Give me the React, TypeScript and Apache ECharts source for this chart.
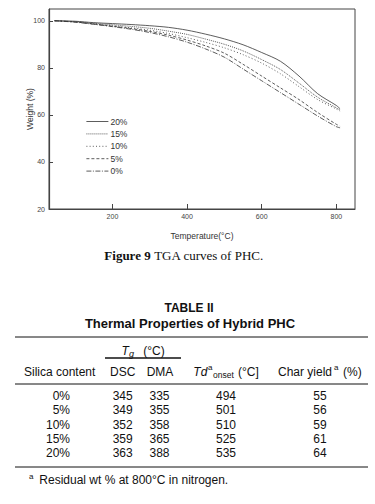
import React, { useEffect, useRef } from "react";
import * as echarts from "echarts";

// ---- Figure data ----
const temps = [45, 100, 150, 200, 250, 300, 350, 400, 450, 500, 550, 600, 650, 700, 750, 800, 810];
const w20 = [100, 99.8, 99.2, 98.8, 98.4, 97.9, 97.2, 96.0, 94.3, 92.3, 89.8, 86.5, 82.8, 76.5, 69.0, 64.0, 62.6];
const w15 = [100, 99.6, 98.9, 98.3, 97.6, 96.8, 95.6, 94.2, 92.2, 90.0, 87.2, 83.5, 79.3, 73.5, 67.5, 63.0, 62.0];
const w10 = [100, 99.5, 98.7, 97.9, 97.0, 96.0, 94.6, 92.8, 90.8, 88.5, 85.6, 82.0, 77.5, 72.0, 66.5, 62.5, 61.6];
const w5 = [100, 99.5, 98.6, 97.7, 96.7, 95.5, 93.9, 91.8, 89.3, 86.2, 81.5, 76.5, 71.5, 66.5, 61.0, 56.0, 55.2];
const w0 = [100, 99.4, 98.5, 97.5, 96.4, 95.0, 93.2, 90.9, 88.0, 84.5, 79.5, 74.5, 69.5, 64.5, 59.5, 55.0, 54.5];
const seriesNames = ["20%", "15%", "10%", "5%", "0%"];
const xTicks = [200, 400, 600, 800];
const yTicks = [20, 40, 60, 80, 100];

// ---- Table data ----
const silica = ["0%", "5%", "10%", "15%", "20%"];
const tgDSC = [345, 349, 352, 359, 363];
const tgDMA = [335, 355, 358, 365, 388];
const tdOnset = [494, 501, 510, 525, 535];
const charYield = [55, 56, 59, 61, 64];

const SANS = '"Liberation Sans", Arial, sans-serif';
const SERIF = '"Liberation Serif", "Times New Roman", serif';
const INK = "#111";

function txt(x: number, y: number, text: string, opts: any = {}) {
  return {
    type: "text",
    x,
    y,
    silent: true,
    style: {
      text,
      fill: opts.fill || INK,
      fontSize: opts.fontSize || 12,
      fontFamily: opts.fontFamily || SANS,
      fontWeight: opts.fontWeight || "normal",
      fontStyle: opts.fontStyle || "normal",
      align: opts.align || "left",
      verticalAlign: "middle",
      rich: opts.rich,
    },
  };
}

function hline(x1: number, x2: number, y: number, w = 1) {
  return {
    type: "line",
    silent: true,
    shape: { x1, y1: y, x2, y2: y },
    style: { stroke: INK, lineWidth: w },
  };
}

export default function App() {
  const ref = useRef<HTMLDivElement>(null);

  useEffect(() => {
    if (!ref.current) return;
    const chart = echarts.init(ref.current, undefined, { renderer: "svg" });
    const allW = [w20, w15, w10, w5, w0];
    const dashes: any[] = ["solid", [1, 1], [1, 2.2], [3, 2], [5, 1.5, 1, 1.5]];

    const rowY = silica.map((_, i) => 396 + i * 14.3);
    const tableTexts: any[] = [];
    silica.forEach((s, i) => {
      tableTexts.push(txt(70, rowY[i], s, { align: "right" }));
      tableTexts.push(txt(122.7, rowY[i], String(tgDSC[i]), { align: "center" }));
      tableTexts.push(txt(159.5, rowY[i], String(tgDMA[i]), { align: "center" }));
      tableTexts.push(txt(226, rowY[i], String(tdOnset[i]), { align: "center" }));
      tableTexts.push(txt(320, rowY[i], String(charYield[i]), { align: "center" }));
    });

    const option: any = {
      animation: false,
      backgroundColor: "#fff",
      grid: { left: 49, right: 20, top: 9, bottom: 295, show: true, borderColor: "#444", borderWidth: 1 },
      xAxis: {
        type: "value",
        min: 30,
        max: 850,
        name: "Temperature(°C)",
        nameLocation: "middle",
        nameGap: 22,
        nameMoveOverlap: false,
        nameTextStyle: { fontSize: 8.5, fontFamily: SANS, color: "#333" },
        axisLine: { lineStyle: { color: "#444", width: 1 } },
        axisTick: { inside: true, length: 5, customValues: xTicks, lineStyle: { color: "#444" } },
        axisLabel: { customValues: xTicks, fontSize: 7, fontFamily: SANS, color: "#444", margin: 4 },
        splitLine: { show: false },
      },
      yAxis: {
        type: "value",
        min: 20,
        max: 105,
        name: "Weight (%)",
        nameLocation: "middle",
        nameGap: 15,
        nameMoveOverlap: false,
        nameRotate: 90,
        nameTextStyle: { fontSize: 8.5, fontFamily: SANS, color: "#333" },
        axisLine: { lineStyle: { color: "#444", width: 1.2 } },
        axisTick: { inside: true, length: 4, customValues: yTicks, lineStyle: { color: "#444" } },
        axisLabel: { customValues: yTicks, fontSize: 7, fontFamily: SANS, color: "#444", margin: 4 },
        splitLine: { show: false },
      },
      legend: {
        orient: "vertical",
        left: 81,
        top: 112,
        itemWidth: 22,
        itemHeight: 8,
        itemGap: 3.4,
        data: seriesNames,
        itemStyle: { opacity: 0 },
        lineStyle: { width: 0.8 },
        textStyle: { fontSize: 8.5, fontFamily: SANS, color: "#333", padding: [0, 0, 0, -3] },
      },
      series: seriesNames.map((name, k) => ({
        name,
        type: "line",
        symbol: "none",
        smooth: 0.3,
        data: temps.map((t, i) => [t, allW[k][i]]),
        lineStyle: { color: "#333", width: 0.8, type: dashes[k] },
        itemStyle: { color: "#333" },
      })),
      graphic: [
        txt(184, 255, "{b|Figure 9} TGA curves of PHC.", {
          fontFamily: SERIF,
          fontSize: 13,
          align: "center",
          rich: { b: { fontWeight: "bold", fontFamily: SERIF, fontSize: 13, fill: INK } },
        }),
        txt(189, 308, "TABLE II", { fontWeight: "bold", align: "center", fontSize: 12 }),
        txt(190, 323, "Thermal Properties of Hybrid PHC", { fontWeight: "bold", align: "center", fontSize: 13 }),
        hline(15, 368, 337, 1),
        txt(121.5, 351, "T", { fontStyle: "italic" }),
        txt(129, 354, "g", { fontStyle: "italic", fontSize: 9 }),
        txt(143.3, 351, "(°C)"),
        hline(105, 181, 358, 1.5),
        txt(24, 372, "Silica content"),
        txt(122.7, 372, "DSC", { align: "center" }),
        txt(160, 372, "DMA", { align: "center" }),
        txt(193.3, 372, "Td", { fontStyle: "italic" }),
        txt(208, 367.5, "a", { fontSize: 8 }),
        txt(213, 375, "onset", { fontSize: 8.5 }),
        txt(238, 372, "(°C]"),
        txt(278, 372, "Char yield"),
        txt(334, 367.5, "a", { fontSize: 8 }),
        txt(343, 372, "(%)"),
        hline(15, 368, 384, 1),
        ...tableTexts,
        hline(15, 368, 467, 1),
        txt(29, 476, "a", { fontSize: 8 }),
        txt(39.3, 480, "Residual wt % at 800°C in nitrogen."),
      ],
    };
    chart.setOption(option);
    return () => chart.dispose();
  }, []);

  return (
    <div
      ref={ref}
      style={{ position: "absolute", left: 0, top: 0, width: 375, height: 504, background: "#fff" }}
    />
  );
}
